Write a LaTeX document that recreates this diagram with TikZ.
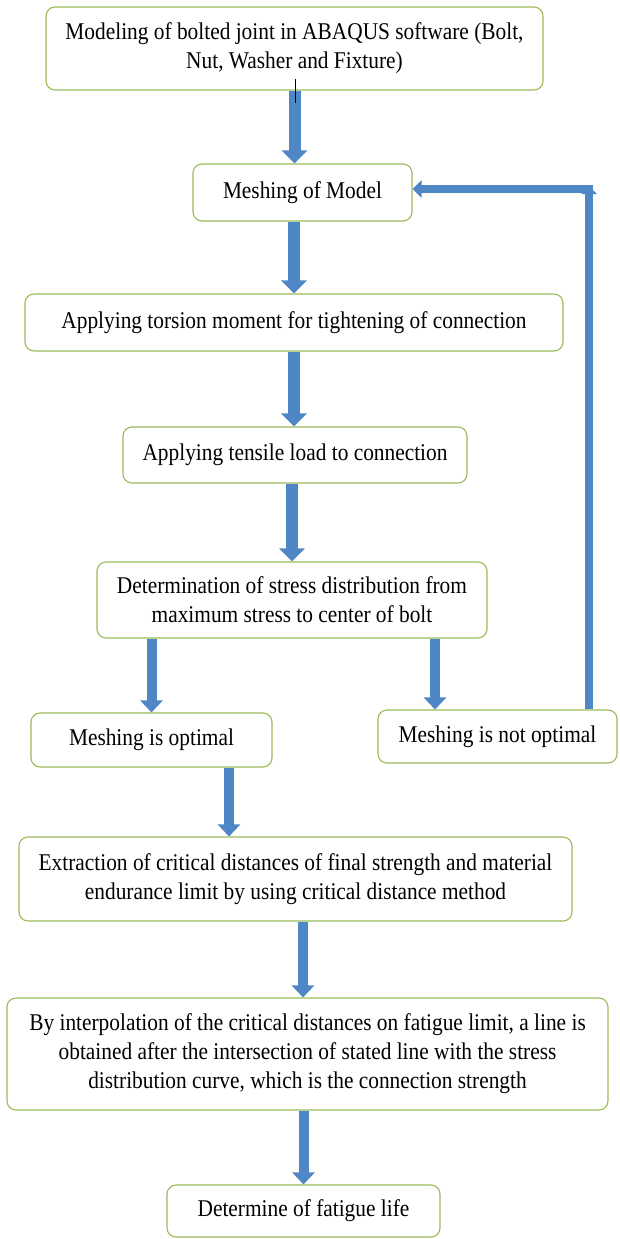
\documentclass[tikz,border=0pt]{standalone}
\usepackage{fontspec}
\setmainfont{Liberation Serif}[FakeStretch=0.89]
\usetikzlibrary{arrows.meta,calc}
\definecolor{boxgreen}{RGB}{155,187,89}
\definecolor{flowblue}{RGB}{79,134,198}
\tikzset{
	stage/.style={draw=boxgreen,line width=1.1pt,rounded corners=9pt,align=center,inner sep=0pt},
	flow/.style={draw=flowblue,line width=12pt,-{Triangle[width=25pt,length=13pt]}},
	slimflow/.style={draw=flowblue,line width=10pt,-{Triangle[width=22pt,length=12pt]}},
	loopflow/.style={draw=flowblue,line width=8pt,-{Triangle[width=17pt,length=9pt]}},
}
\begin{document}
\begin{tikzpicture}[x=1pt,y=-1pt,font=\fontsize{24}{29}\selectfont]
	\useasboundingbox (0,0) rectangle (619,1239);
	\node[stage,minimum width=497pt,minimum height=83pt] (model) at (294.5,48.5) {Modeling of bolted joint in ABAQUS software (Bolt,\\Nut, Washer and Fixture)};
	\node[stage,minimum width=219pt,minimum height=57pt] (mesh) at (302.5,192.5) {Meshing of Model};
	\node[stage,minimum width=538pt,minimum height=57pt] (torsion) at (294,322.5) {Applying torsion moment for tightening of connection};
	\node[stage,minimum width=344pt,minimum height=56pt] (tensile) at (295,455) {Applying tensile load to connection};
	\node[stage,minimum width=390pt,minimum height=76pt] (stress) at (292,600) {Determination of stress distribution from\\maximum stress to center of bolt};
	\node[stage,minimum width=241pt,minimum height=54pt] (good) at (151.5,740) {Meshing is optimal};
	\node[stage,minimum width=239pt,minimum height=53pt] (bad) at (497.5,736.5) {Meshing is not optimal};
	\node[stage,minimum width=553pt,minimum height=84pt] (extract) at (295.5,879) {Extraction of critical distances of final strength and material\\endurance limit by using critical distance method};
	\node[stage,minimum width=601pt,minimum height=112pt] (interp) at (307.5,1054) {By interpolation of the critical distances on fatigue limit, a line is\\obtained after the intersection of stated line with the stress\\distribution curve, which is the connection strength};
	\node[stage,minimum width=273pt,minimum height=52pt] (life) at (303.5,1211) {Determine of fatigue life};
	\coordinate (badx) at (435,0);
	\coordinate (goodx) at (229,0);
	\coordinate (interpx) at (303,0);
	\coordinate (fbx) at (589,0);
	\coordinate (fbtop) at (589,189);
	\draw[flow] (model.south) -- (model.south |- mesh.north);
	\draw[flow] (torsion.north |- mesh.south) -- (torsion.north);
	\draw[flow] (torsion.south) -- (torsion.south |- tensile.north);
	\draw[flow] (stress.north |- tensile.south) -- (stress.north);
	\draw[slimflow] (good.north |- stress.south) -- (good.north);
	\draw[slimflow] (stress.south -| badx) -- (bad.north -| badx);
	\draw[slimflow] (good.south -| goodx) -- (extract.north -| goodx);
	\draw[slimflow] (extract.south -| interpx) -- (interp.north -| interpx);
	\draw[slimflow] (interp.south -| life.north) -- (life.north);
	\draw[loopflow,-{Triangle[width=15pt,length=8pt]}] (bad.north -| fbx) -- ($(fbtop)+(0,-3)$);
	\draw[loopflow] ($(fbtop)+(4,0)$) -- (fbtop -| mesh.east);
	%\draw (model.south) -- (mesh.north);
	\draw[line width=0.6pt] (295,79) -- (295,103);
\end{tikzpicture}
\end{document}
